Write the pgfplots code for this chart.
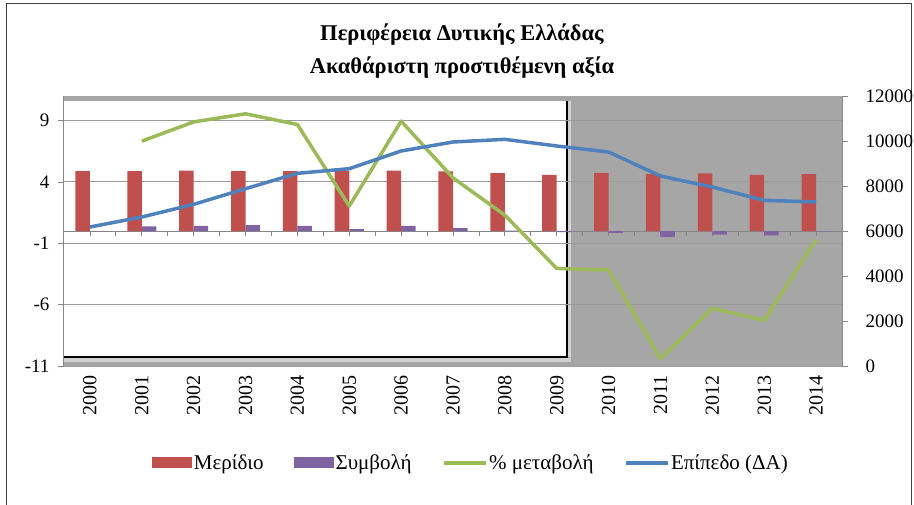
\documentclass[border=0pt]{standalone}
\usepackage{fontspec}
\setmainfont{Liberation Serif}
\usepackage{pgfplots}
\usepackage{pgfplotstable}
\pgfplotsset{compat=1.18}
\definecolor{cred}{HTML}{C0504D}
\definecolor{cpurple}{HTML}{8064A2}
\definecolor{cgreen}{HTML}{9BBB59}
\definecolor{cblue}{HTML}{4F81BD}
\definecolor{bggray}{HTML}{A6A6A6}
\definecolor{axgray}{HTML}{868686}
\definecolor{gridgray}{HTML}{9C9C9C}

\pgfplotstableread{
x meridio symvoli
0 4.88 0
1 4.88 0.37
2 4.93 0.42
3 4.88 0.48
4 4.88 0.42
5 4.93 0.15
6 4.93 0.42
7 4.85 0.24
8 4.71 0.03
9 4.58 -0.10
10 4.74 -0.15
11 4.66 -0.50
12 4.69 -0.30
13 4.58 -0.35
14 4.63 -0.04
}\bars
\pgfplotstableread{
x metaboli
1 7.32
2 8.89
3 9.55
4 8.68
5 2.03
6 8.95
7 4.33
8 1.29
9 -3.05
10 -3.18
11 -10.4
12 -6.3
13 -7.28
14 -0.69
}\green
\pgfplotstableread{
x epipedo
0 6178
1 6622
2 7185
3 7881
4 8563
5 8770
6 9556
7 9956
8 10074
9 9778
10 9511
11 8444
12 7956
13 7363
14 7289
}\blue

\pgfplotsset{myax/.style={at={(64pt,-366pt)}, anchor=south west, scale only axis,
  width=778pt, height=270pt, xmin=-0.5, xmax=14.5,
  tick label style={font=\fontsize{19}{22}\selectfont},
  /pgf/number format/assume math mode=true}}

\begin{document}
\begin{tikzpicture}[x=1pt,y=1pt]
\useasboundingbox (0,0) rectangle (914,-504);
% chart frame
\draw[line width=1.5pt, color=black!75] (6.5,-530) -- (6.5,-3.5) -- (911.5,-3.5) -- (911.5,-530);
% plot area decoration
\fill[bggray] (64,-96) rectangle (842,-366);
\fill[white] (64,-101) rectangle (567,-357);
\fill[black!18] (567.6,-101) rectangle (571,-357);
\fill[black!18] (64,-358) rectangle (571,-362);
\draw[black, line width=1.3pt] (64,-357) -- (567,-357) -- (567,-101);
% title
\node[font=\bfseries\fontsize{22.5}{33}\selectfont, align=center] at (462,-51.5)
  {Περιφέρεια Δυτικής Ελλάδας\\Ακαθάριστη προστιθέμενη αξία};

% category axis line at zero
\begin{axis}[myax, ymin=-11, ymax=11, axis x line=middle, axis y line=none,
  x axis line style={-, draw=axgray, line width=1pt},
  xtick={0,0.5,...,14}, xticklabels={}, tick align=outside, major tick length=5pt,
  xtick style={draw=axgray, line width=0.8pt}]
\addplot[draw=none, forget plot] coordinates {(0,0)};
\end{axis}

% primary axis
\begin{axis}[myax, ymin=-11, ymax=11,
  axis y line*=left, axis x line*=bottom,
  x axis line style={draw=none}, xtick style={draw=none},
  y axis line style={draw=axgray, line width=1pt},
  ytick style={draw=axgray, line width=0.8pt},
  tick align=outside, major tick length=6pt,
  ytick={-11,-6,-1,4,9}, ymajorgrids, grid style={gridgray, line width=0.9pt},
  yticklabel style={xshift=-5pt},
  xtick={0,...,14},
  xticklabels={2000,2001,2002,2003,2004,2005,2006,2007,2008,2009,2010,2011,2012,2013,2014},
  xticklabel style={rotate=90, anchor=east, font=\fontsize{20}{22}\selectfont},
  clip=false,
  legend columns=4,
  legend style={at={(0.523,-0.359)}, anchor=center, draw=none, fill=none,
    font=\fontsize{21}{24}\selectfont,
    /tikz/every even column/.append style={column sep=29pt},
    nodes={inner sep=1.5pt}},
  legend cell align=left]
\addplot[ybar, fill=cred, draw=none, bar width=0.28, bar shift=-0.14,
  legend image code/.code={\fill[cred] (0pt,-5.5pt) rectangle (40pt,5.5pt);}]
  table[x=x, y=meridio] {\bars};
\addlegendentry{Μερίδιο}
\addplot[ybar, fill=cpurple, draw=none, bar width=0.28, bar shift=0.14,
  legend image code/.code={\fill[cpurple] (0pt,-5.5pt) rectangle (40pt,5.5pt);}]
  table[x=x, y=symvoli] {\bars};
\addlegendentry{Συμβολή}
\addplot[cgreen, line width=3.5pt, line join=round,
  legend image code/.code={\draw[cgreen, line width=3.5pt] (0pt,0pt) -- (42pt,0pt);}]
  table[x=x, y=metaboli] {\green};
\addlegendentry{\% μεταβολή}
\addlegendimage{legend image code/.code={\draw[cblue, line width=3.5pt] (0pt,0pt) -- (42pt,0pt);}}
\addlegendentry{Επίπεδο (ΔΑ)}
\end{axis}

% secondary axis
\begin{axis}[myax, ymin=0, ymax=12000,
  axis y line*=right, axis x line=none,
  y axis line style={draw=axgray, line width=1pt},
  ytick style={draw=axgray, line width=0.8pt},
  tick align=outside, major tick length=6pt,
  ytick={0,2000,...,12000}, scaled y ticks=false,
  yticklabel style={/pgf/number format/1000 sep={}, xshift=14pt}]
\addplot[cblue, line width=3.5pt, line join=round] table[x=x, y=epipedo] {\blue};
\end{axis}
\end{tikzpicture}
\end{document}
